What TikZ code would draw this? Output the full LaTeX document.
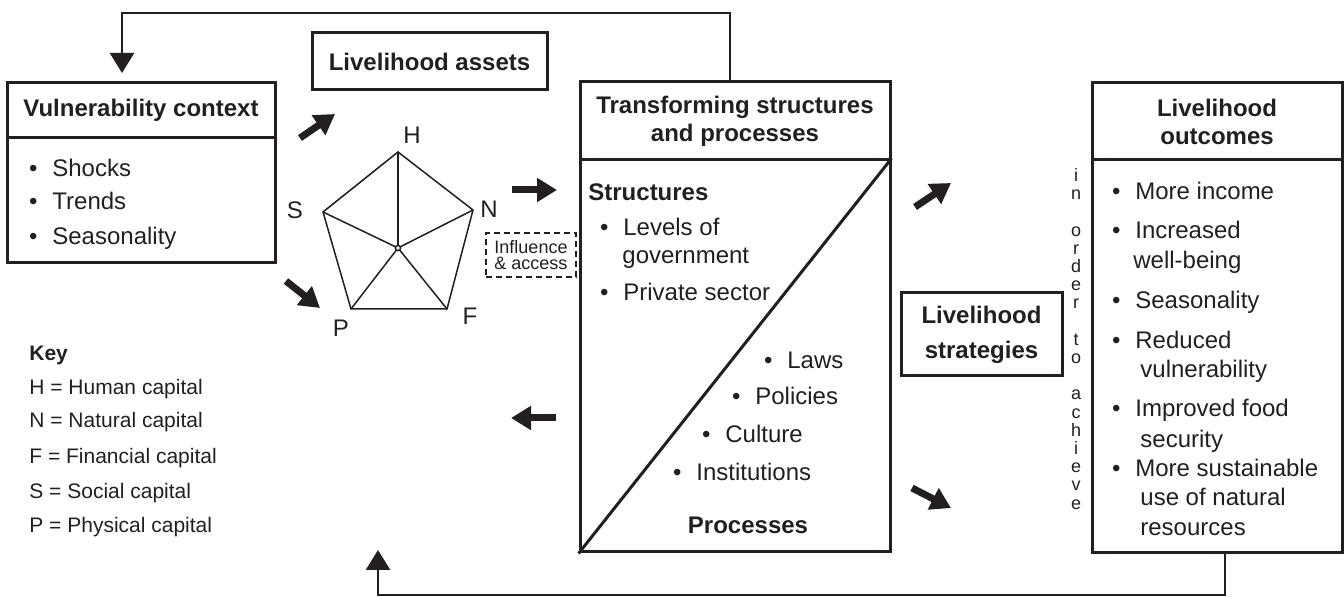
\documentclass[tikz,border=0pt]{standalone}
\usepackage{fontspec}
\setmainfont{Liberation Sans}
\usetikzlibrary{arrows.meta}
\definecolor{ink}{RGB}{35,31,32}
\newcommand{\bul}{\llap{\textbullet\hspace{7.4pt}}}
\begin{document}
\begin{tikzpicture}[x=0.5pt,y=-0.5pt,
  box/.style={draw=ink, line width=1.5pt, inner sep=0pt, rectangle, text=ink},
  ttl/.style={box, font=\fontsize{12}{14}\selectfont\bfseries, align=center},
  lt/.style={font=\fontsize{12}{14}\selectfont, text=ink, inner sep=0pt, anchor=west, text height=8.6pt, text depth=0pt},
  ltb/.style={lt, font=\fontsize{12}{14}\selectfont\bfseries},
  keyt/.style={lt, font=\fontsize{10.5}{12}\selectfont, text height=7.5pt},
  keyb/.style={keyt, font=\fontsize{10.5}{12}\selectfont\bfseries},
  lab/.style={font=\fontsize{12}{14}\selectfont, text=ink, inner sep=0pt},
  blk/.style={draw=ink, line width=3.5pt, -{Triangle[length=10pt,width=11.5pt]}},
  fb/.style={draw=ink, line width=1.2pt, -{Triangle[length=10pt,width=12pt]}},
  pent/.style={draw=ink, line width=0.75pt, line join=round, line cap=round}]
\useasboundingbox (0,0) rectangle (1344,597);

% ---------- Vulnerability context
\node[ttl, minimum width=134pt, minimum height=27.5pt] (vct) at (141,110.5) {Vulnerability context};
\node[box, minimum width=134pt, minimum height=62.5pt] (vcb) at (141,200.5) {};
\node[lt] (v1) at (52,168) {\bul Shocks};
\node[lt] (v2) at (52,201) {\bul Trends};
\node[lt] (v3) at (52,236) {\bul Seasonality};

% ---------- Livelihood assets
\node[ttl, minimum width=117.5pt, minimum height=28.5pt] (la) at (429.5,61.5) {Livelihood assets};

% ---------- Pentagon
\coordinate (pH) at (398,152);
\coordinate (pN) at (473,210);
\coordinate (pF) at (447,309);
\coordinate (pP) at (351,309);
\coordinate (pS) at (323,212);
\coordinate (pC) at (398,248);
\draw[pent] (pH) -- (pN) -- (pF) -- (pP) -- (pS) -- cycle;
\foreach \v in {pH,pN,pF,pP,pS} \draw[pent] (pC) -- (\v);
\draw[pent, fill=white] (pC) circle (1.3pt);
\node[lab] (lH) at (412,135) {H};
\node[lab] (lN) at (489,209) {N};
\node[lab] (lF) at (470,316) {F};
\node[lab] (lP) at (341,328) {P};
\node[lab] (lS) at (295,210) {S};

% ---------- Influence & access
\node[draw=ink, line width=1pt, dash pattern=on 3pt off 2pt, inner sep=0pt,
      minimum width=45pt, minimum height=22pt, align=left, text=ink,
      font=\fontsize{9}{8}\selectfont] (inf) at (531,255) {Influence\\\& access};

% ---------- Transforming structures and processes
\node[ttl, minimum width=155pt, minimum height=39pt] (tst) at (735,121) {Transforming structures\\and processes};
\node[box, minimum width=155pt, minimum height=196pt] (tsb) at (735,356) {};
\draw[draw=ink, line width=1.5pt] (tsb.south west) -- (tsb.north east);
\node[ltb] (s0) at (588,192) {Structures};
\node[lt] (s1) at (623,227) {\bul Levels of};
\node[lt] (s2) at (622,255) {government};
\node[lt] (s3) at (623,292) {\bul Private sector};
\node[lt] (p1) at (787,360) {\bul Laws};
\node[lt] (p2) at (755,396) {\bul Policies};
\node[lt] (p3) at (725,434) {\bul Culture};
\node[lt] (p4) at (696,472) {\bul Institutions};
\node[ltb, anchor=center] (p0) at (748,525) {Processes};

% ---------- Livelihood strategies
\node[box, font=\fontsize{12}{17.5}\selectfont\bfseries, align=center,
      minimum width=80.5pt, minimum height=41.5pt] (ls) at (981.5,334.5) {Livelihood\\strategies};

% ---------- in order to achieve
\node[text=ink, inner sep=0pt, align=center, anchor=north,
      font=\fontsize{9}{9.1}\selectfont] (ioa) at (1076,168)
  {i\\n\\~\\o\\r\\d\\e\\r\\~\\t\\o\\~\\a\\c\\h\\i\\e\\v\\e};

% ---------- Livelihood outcomes
\node[ttl, minimum width=125pt, minimum height=38.5pt] (lot) at (1217,121.5) {Livelihood\\outcomes};
\node[box, minimum width=125pt, minimum height=196.5pt] (lob) at (1217,356.5) {};
\node[lt] (o1) at (1135,191) {\bul More income};
\node[lt] (o2) at (1135,230) {\bul Increased};
\node[lt] (o3) at (1133,260) {well-being};
\node[lt] (o4) at (1135,300) {\bul Seasonality};
\node[lt] (o5) at (1135,340) {\bul Reduced};
\node[lt] (o6) at (1140,369) {vulnerability};
\node[lt] (o7) at (1135,408) {\bul Improved food};
\node[lt] (o8) at (1140,439) {security};
\node[lt] (o9) at (1135,468) {\bul More sustainable};
\node[lt] (o10) at (1140,497) {use of natural};
\node[lt] (o11) at (1140,527) {resources};

% ---------- Key
\node[keyb] (k0) at (29,353) {Key};
\node[keyt] (k1) at (29,387) {H = Human capital};
\node[keyt] (k2) at (29,420) {N = Natural capital};
\node[keyt] (k3) at (29,456) {F = Financial capital};
\node[keyt] (k4) at (29,491) {S = Social capital};
\node[keyt] (k5) at (29,525) {P = Physical capital};

% ---------- block arrows
\coordinate (a1s) at (300,138); \coordinate (a1e) at (335,114);
\coordinate (a2s) at (286,281); \coordinate (a2e) at (320,308);
\coordinate (a3s) at (512,190); \coordinate (a3e) at (557,190);
\coordinate (a4s) at (556,418); \coordinate (a4e) at (511,418);
\coordinate (a5s) at (915,207); \coordinate (a5e) at (951,183);
\coordinate (a6s) at (912,488); \coordinate (a6e) at (951,508);
\draw[blk] (a1s) -- (a1e);
\draw[blk] (a2s) -- (a2e);
\draw[blk] (a3s) -- (a3e);
\draw[blk] (a4s) -- (a4e);
\draw[blk] (a5s) -- (a5e);
\draw[blk] (a6s) -- (a6e);

% ---------- feedback loops
\coordinate (fbL) at (122,13);
\coordinate (fbT) at (122,73);
\draw[fb] ([xshift=-2.5pt]tst.north) |- (fbL) -- (fbT);
\coordinate (fbB) at (378,595);
\coordinate (fbU) at (378,550);
\draw[fb] ([xshift=4pt]lob.south) |- (fbB) -- (fbU);
\end{tikzpicture}
\end{document}
